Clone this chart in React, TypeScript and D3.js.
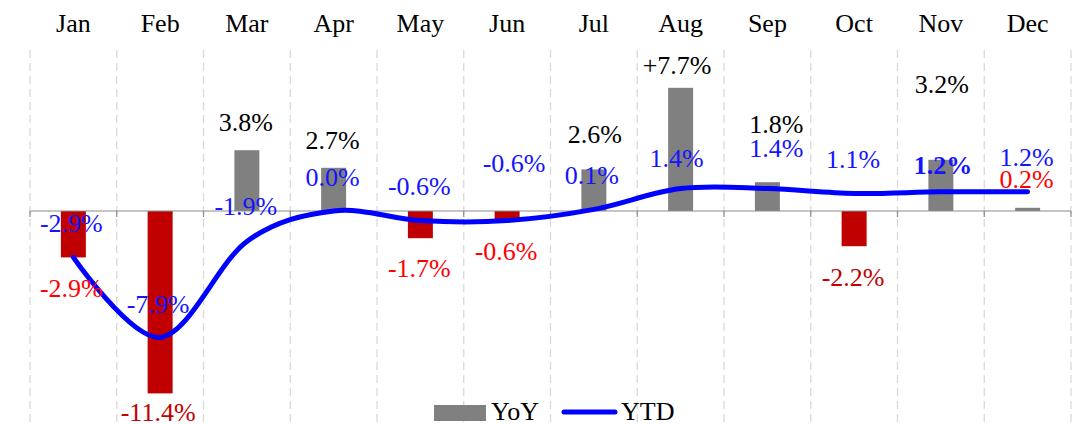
import React from "react";
import * as d3 from "d3";

const months = ["Jan", "Feb", "Mar", "Apr", "May", "Jun", "Jul", "Aug", "Sep", "Oct", "Nov", "Dec"];
const yoy = [-2.9, -11.4, 3.8, 2.7, -1.7, -0.6, 2.6, 7.7, 1.8, -2.2, 3.2, 0.2];
const ytd = [-2.9, -7.9, -1.9, 0.0, -0.6, -0.6, 0.1, 1.4, 1.4, 1.1, 1.2, 1.2];
const yoyText = ["-2.9%", "-11.4%", "3.8%", "2.7%", "-1.7%", "-0.6%", "2.6%", "+7.7%", "1.8%", "-2.2%", "3.2%", "0.2%"];
const ytdText = ["-2.9%", "-7.9%", "-1.9%", "0.0%", "-0.6%", "-0.6%", "0.1%", "1.4%", "1.4%", "1.1%", "1.2%", "1.2%"];

// styling / label placement (pixels)
const yoyLabelColor = ["#FF0000", "#C00000", "#000", "#000", "#FF0000", "#FF0000", "#000", "#000", "#000", "#C00000", "#000", "#FF0000"];
const yoyLabelDy = [40, 28, -19, -19, 39, 39, -26, -14, -49, 39.5, -67, -20];
const yoyLabelDx = [-2, -2, -1, -1, -1, -1, 1, -3.5, 9, -1, 1, -1];
const ytdLabelDy = [-25.5, -24.5, -26, -25, -25.5, -48.5, -25.5, -21.5, -31.5, -25.5, -18, -26];
const ytdLabelDx = [-2, -2, -1, -1, -1, 7, -2, -4, 9, -1, 2, -1];
const ytdLabelBold = [false, false, false, false, false, false, false, false, false, false, true, false];

const W = 1077;
const H = 424;
const FONT = "Liberation Serif, serif";
const FS = 26;

export default function App() {
  const x = d3.scaleBand<string>().domain(months).range([30, 1071]).padding(0);
  const y = d3.scaleLinear().domain([-13.5, 10]).range([427, 51]);
  const bw = x.bandwidth();
  const barW = bw * 0.288;
  const cx = (m: string) => (x(m) as number) + bw / 2;

  const line = d3
    .line<number>()
    .x((_, i) => cx(months[i]))
    .y((d) => y(d))
    .curve(d3.curveCardinal.tension(0));

  const boundaries = d3.range(months.length + 1).map((i) => 30 + i * bw);

  return (
    <svg width={W} height={H} style={{ position: "absolute", left: 0, top: 0, background: "#fff", fontFamily: FONT }}>
      {boundaries.map((bx, i) => (
        <line key={"g" + i} x1={bx} x2={bx} y1={50} y2={H} stroke="#d9d9d9" strokeWidth={1.3} strokeDasharray="8,5" />
      ))}
      {months.map((m) => (
        <text key={"m" + m} x={cx(m)} y={31.5} textAnchor="middle" fontSize={FS} fill="#000">
          {m}
        </text>
      ))}
      {yoy.map((v, i) => (
        <rect
          key={"b" + i}
          x={cx(months[i]) - barW / 2}
          y={Math.min(y(v), y(0))}
          width={barW}
          height={Math.abs(y(v) - y(0))}
          fill={v >= 0 ? "#808080" : "#C00000"}
        />
      ))}
      <line x1={30} x2={1071} y1={y(0)} y2={y(0)} stroke="#8c8c8c" strokeWidth={1.2} />
      {boundaries.map((bx, i) => (
        <line key={"t" + i} x1={bx} x2={bx} y1={y(0)} y2={y(0) + 6} stroke="#8c8c8c" strokeWidth={1.2} />
      ))}
      <path d={line(ytd) || ""} fill="none" stroke="#0000FF" strokeWidth={5} strokeLinecap="round" />
      {yoy.map((v, i) => (
        <text
          key={"yl" + i}
          x={cx(months[i]) + yoyLabelDx[i]}
          y={y(v) + yoyLabelDy[i]}
          textAnchor="middle"
          fontSize={FS}
          fill={yoyLabelColor[i]}
        >
          {yoyText[i]}
        </text>
      ))}
      {ytd.map((v, i) => (
        <text
          key={"tl" + i}
          x={cx(months[i]) + ytdLabelDx[i]}
          y={y(v) + ytdLabelDy[i]}
          textAnchor="middle"
          fontSize={FS}
          fontWeight={ytdLabelBold[i] ? "bold" : "normal"}
          fill="#1414FF"
        >
          {ytdText[i]}
        </text>
      ))}
      <rect x={434} y={405} width={52} height={16} fill="#808080" />
      <text x={491} y={420} fontSize={FS} fill="#000">YoY</text>
      <line x1={564} x2={615} y1={412} y2={412} stroke="#0000FF" strokeWidth={5} strokeLinecap="round" />
      <text x={621} y={420} fontSize={FS} fill="#000">YTD</text>
    </svg>
  );
}
